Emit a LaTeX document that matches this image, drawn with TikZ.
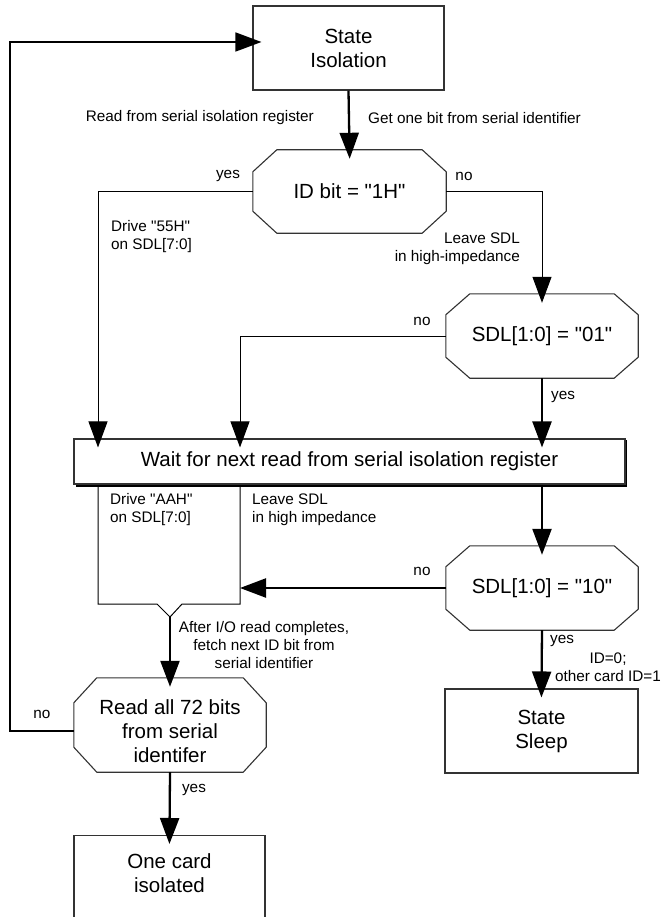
\documentclass[tikz,border=0pt]{standalone}
\usepackage{fontspec}
\setmainfont{Liberation Sans}
\usetikzlibrary{arrows.meta,calc}

% straight double quote
\newcommand\dq{\textquotedbl}

% chamfered outline drawn round an (invisible) rectangular node
\newcommand\octoutline[3]{%
  \draw[boxline]
    ($(#1.north west)+(#2pt,0pt)$) -- ($(#1.north east)+(-#2pt,0pt)$)
    -- ($(#1.north east)+(0pt,-#3pt)$) -- ($(#1.south east)+(0pt,#3pt)$)
    -- ($(#1.south east)+(-#2pt,0pt)$) -- ($(#1.south west)+(#2pt,0pt)$)
    -- ($(#1.south west)+(0pt,#3pt)$) -- ($(#1.north west)+(0pt,-#3pt)$)
    -- cycle;}

\begin{document}
\begin{tikzpicture}[x=1pt,y=-1pt,
  boxline/.style={draw=black!80, line width=1.1pt},
  bigtext/.style={font=\fontsize{20.5}{24}\selectfont, align=center},
  smalltext/.style={font=\fontsize{15.3}{18}\selectfont, inner sep=0pt},
  statebox/.style={boxline, bigtext, rectangle, inner sep=0pt},
  octonode/.style={bigtext, rectangle, inner sep=0pt},
  tip/.style={-{Triangle[length=26pt,width=19pt]}},
  flow/.style={line width=2.3pt, tip, shorten >=-9pt},
  thinflow/.style={line width=1pt, tip, shorten >=-9pt},
  thinline/.style={line width=1pt},
  loopflow/.style={line width=1.5pt, tip, shorten >=-9pt}]

\useasboundingbox (0,0) rectangle (663,917);

% states and decisions
\node[statebox, minimum width=191pt, minimum height=84pt] (iso) at (348.5,48) {State\\Isolation};
\node[octonode, minimum width=193pt, minimum height=83pt] (idbit) at (349.5,191.5) {ID bit = \dq 1H\dq};
\octoutline{idbit}{24}{22}
\node[octonode, minimum width=192pt, minimum height=84pt] (sdl01) at (542,336) {SDL[1:0] = \dq 01\dq};
\octoutline{sdl01}{24}{21}
% the wait box has a slight shadow on its right and lower edges
\draw[line width=1.2pt, black] (626.5,440) -- (626.5,486) -- (76,486);
\node[statebox, fill=white, minimum width=551pt, minimum height=45pt] (wait) at (349.5,461.5) {Wait for next read from serial isolation register};
\node[octonode, minimum width=192pt, minimum height=84pt] (sdl10) at (542,588) {SDL[1:0] = \dq 10\dq};
\octoutline{sdl10}{24}{21}
\node[octonode, minimum width=192pt, minimum height=94pt] (read) at (170,725) {};
\octoutline{read}{23}{25}
\node[bigtext, inner sep=0pt] (readtext) at (170,731) {Read all 72 bits\\from serial\\identifer};
\node[statebox, minimum width=193pt, minimum height=84pt] (sleep) at (541.5,731) {State\\Sleep};
\node[statebox, minimum width=191pt, minimum height=100pt, anchor=north] (one) at (169.5,835) {};
\node[bigtext, inner sep=0pt] (onetext) at (169.5,873.5) {One card\\isolated};

% merge of the two drive paths
\coordinate (mleft) at (98,485);
\coordinate (mright) at (240,485);
\coordinate (mtip) at (170,617);
\draw[thinline] (mleft) -- (98,604) -- (157,604) -- (mtip) -- (182,604) -- (240,604) -- (mright);

% connectors
\coordinate (yesx) at (98,0);
\coordinate (nox) at (240,0);
\coordinate (fbbot) at (10,731);
\coordinate (fbtop) at (10,42);
\draw[flow] (iso.south) -- (idbit.north);
\draw[thinflow] (idbit.west) -| (yesx |- wait.north);
\draw[thinflow] (idbit.east) -| (sdl01.north);
\draw[thinflow] (sdl01.west) -| (nox |- wait.north);
\draw[flow] (sdl01.south) -- (sdl01.south |- wait.north);
\draw[flow] (sdl01.south |- wait.south) -- (sdl10.north);
\draw[flow, shorten >=0pt] (sdl10.west) -- (sdl10.west -| mright);
\draw[flow] (mtip) -- (read.north);
\draw[flow] (sdl10.south) -- (sleep.north);
\draw[flow] (read.south) -- (one.north);
\draw[loopflow] (readtext.west -| read.west) -- (fbbot) -- (fbtop) -- (fbtop -| iso.west);

% labels
\node[smalltext, anchor=east] (lread) at (314,118) {Read from serial isolation register};
\node[smalltext, anchor=west] (lget) at (368,118) {Get one bit from serial identifier};
\node[smalltext] (lyes1) at (228,176) {yes};
\node[smalltext] (lno1) at (464,176) {no};
\node[smalltext, anchor=west, align=left] (ldrive55) at (111,237) {Drive \dq 55H\dq\\on SDL[7:0]};
\node[smalltext, anchor=east, align=right] (lleave1) at (520,249) {Leave SDL\\in high-impedance};
\node[smalltext] (lno2) at (422,321) {no};
\node[smalltext] (lyes2) at (563,397) {yes};
\node[smalltext, anchor=west, align=left] (ldriveaa) at (110,510) {Drive \dq AAH\dq\\on SDL[7:0]};
\node[smalltext, anchor=west, align=left] (lleave2) at (252,510) {Leave SDL\\in high impedance};
\node[smalltext] (lno3) at (422,571) {no};
\node[smalltext, align=center] (lafter) at (264,645) {After I/O read completes,\\fetch next ID bit from\\serial identifier};
\node[smalltext] (lyes3) at (562,641) {yes};
\node[smalltext, align=center] (lid) at (608,667) {ID=0;\\other card ID=1};
\node[smalltext] (lno4) at (42,714) {no};
\node[smalltext] (lyes4) at (194,790) {yes};
\end{tikzpicture}
\end{document}
